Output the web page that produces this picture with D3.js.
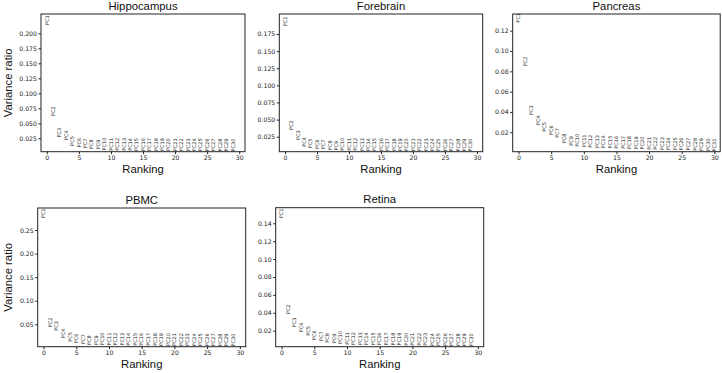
<!DOCTYPE html>
<html>
<head>
<meta charset="utf-8">
<script src="https://cdn.jsdelivr.net/npm/d3@7"></script>
<style>
  body { margin: 0; background: #fff; }
  .axis { color: #222; }
  .tick text { font-family: "DejaVu Sans", sans-serif; font-size: 6.2px; fill: #222; }
  .pc-label { font-family: "DejaVu Sans", sans-serif; font-size: 5px; fill: #222; }
  .title, .axis-title { font-family: "Liberation Sans", Arial, sans-serif; font-size: 11.3px; fill: #111; }
</style>
</head>
<body>
<div id="chart"></div>
<script>
//Variance ratio of each principal component.
let hippocampus = [0.2138, 0.0622, 0.0262, 0.0222, 0.0124, 0.0096, 0.0084, 0.0073, 0.0067, 0.0047,
  0.0044, 0.0043, 0.0042, 0.0041, 0.0040, 0.0039, 0.0039, 0.0038, 0.0038, 0.0037,
  0.0036, 0.0036, 0.0035, 0.0035, 0.0034, 0.0034, 0.0033, 0.0032, 0.0032, 0.0031]
let forebrain = [0.1862, 0.0348, 0.0202, 0.0104, 0.0080, 0.0070, 0.0066, 0.0056, 0.0048, 0.0045,
  0.0044, 0.0044, 0.0043, 0.0042, 0.0042, 0.0041, 0.0040, 0.0040, 0.0039, 0.0039,
  0.0038, 0.0038, 0.0037, 0.0037, 0.0036, 0.0036, 0.0035, 0.0035, 0.0034, 0.0034]
let pancreas = [0.1279, 0.0850, 0.0370, 0.0272, 0.0206, 0.0173, 0.0147, 0.0092, 0.0068, 0.0058,
  0.0052, 0.0048, 0.0046, 0.0043, 0.0041, 0.0039, 0.0037, 0.0035, 0.0033, 0.0031,
  0.0029, 0.0028, 0.0026, 0.0025, 0.0023, 0.0022, 0.0020, 0.0018, 0.0017, 0.0015, 0.0012]
let pbmc = [0.2748, 0.0436, 0.0364, 0.0203, 0.0131, 0.0097, 0.0082, 0.0063, 0.0060, 0.0054,
  0.0052, 0.0050, 0.0049, 0.0047, 0.0046, 0.0045, 0.0044, 0.0043, 0.0042, 0.0041,
  0.0040, 0.0039, 0.0038, 0.0037, 0.0036, 0.0035, 0.0034, 0.0033, 0.0032, 0.0031]
let retina = [0.1456, 0.0385, 0.0238, 0.0182, 0.0144, 0.0096, 0.0085, 0.0066, 0.0059, 0.0051,
  0.0042, 0.0040, 0.0039, 0.0038, 0.0037, 0.0036, 0.0035, 0.0034, 0.0034, 0.0033,
  0.0032, 0.0032, 0.0031, 0.0030, 0.0030, 0.0029, 0.0028, 0.0028, 0.0027, 0.0026]

//Tick values for every axis.
let xTicks = [0, 5, 10, 15, 20, 25, 30]
let hippocampusTicks = [0.025, 0.050, 0.075, 0.100, 0.125, 0.150, 0.175, 0.200]
let forebrainTicks = [0.025, 0.050, 0.075, 0.100, 0.125, 0.150, 0.175]
let pancreasTicks = [0.02, 0.04, 0.06, 0.08, 0.10, 0.12]
let pbmcTicks = [0.05, 0.10, 0.15, 0.20, 0.25]
let retinaTicks = [0.02, 0.04, 0.06, 0.08, 0.10, 0.12, 0.14]

//Panel boxes and y limits.
let panels = [
  { title: "Hippocampus", values: hippocampus, ticks: hippocampusTicks, fmt: ".3f", ylim: [0.0027, 0.2322], box: [41, 14, 204, 137.7], ylabel: true },
  { title: "Forebrain", values: forebrain, ticks: forebrainTicks, fmt: ".3f", ylim: [0.0031, 0.2042], box: [279.3, 14, 203.4, 137.7], ylabel: false },
  { title: "Pancreas", values: pancreas, ticks: pancreasTicks, fmt: ".2f", ylim: [0.0009, 0.1364], box: [512.7, 14, 207.5, 137.7], ylabel: false },
  { title: "PBMC", values: pbmc, ticks: pbmcTicks, fmt: ".2f", ylim: [0.0025, 0.2967], box: [37.7, 208, 208, 138.7], ylabel: true },
  { title: "Retina", values: retina, ticks: retinaTicks, fmt: ".2f", ylim: [0.0021, 0.1574], box: [275.7, 207.7, 208, 139], ylabel: false }
]

const svg = d3.select("#chart")
  .append("svg")
  .attr("width", 722)
  .attr("height", 373)

panels.forEach(drawPanel)

function drawPanel(p) {
  let [bx, by, bw, bh] = p.box

  let xScale = d3.scaleLinear().domain([-0.9, 30.9]).range([bx, bx + bw])
  let yScale = d3.scaleLinear().domain(p.ylim).range([by + bh, by])

  //Axes with short outward ticks.
  svg.append("g")
    .attr("class", "axis")
    .attr("transform", "translate(0," + (by + bh) + ")")
    .call(d3.axisBottom(xScale).tickValues(xTicks).tickSize(2.5).tickPadding(1.5).tickFormat(d3.format("d")))
    .call(g => g.select(".domain").remove())

  svg.append("g")
    .attr("class", "axis")
    .attr("transform", "translate(" + bx + ",0)")
    .call(d3.axisLeft(yScale).tickValues(p.ticks).tickSize(2.5).tickPadding(1.5).tickFormat(d3.format(p.fmt)))
    .call(g => g.select(".domain").remove())

  //Frame.
  svg.append("rect")
    .attr("x", bx)
    .attr("y", by)
    .attr("width", bw)
    .attr("height", bh)
    .attr("fill", "none")
    .attr("stroke", "#222")
    .attr("stroke-width", 1)

  //PC labels, written vertically from their value upwards.
  svg.append("g")
    .selectAll("text")
    .data(p.values)
    .enter()
    .append("text")
    .attr("class", "pc-label")
    .attr("transform", (d, i) => "translate(" + xScale(i) + "," + yScale(d) + ") rotate(-90)")
    .attr("dy", "0.35em")
    .text((d, i) => "PC" + (i + 1))

  svg.append("text")
    .attr("class", "title")
    .attr("x", bx + bw / 2)
    .attr("y", by - 4.5)
    .style("text-anchor", "middle")
    .text(p.title)

  svg.append("text")
    .attr("class", "axis-title")
    .attr("x", bx + bw / 2)
    .attr("y", by + bh + 21)
    .style("text-anchor", "middle")
    .text("Ranking")

  if (p.ylabel) {
    svg.append("text")
      .attr("class", "axis-title")
      .attr("transform", "translate(11.5," + (by + bh / 2) + ") rotate(-90)")
      .style("text-anchor", "middle")
      .text("Variance ratio")
  }
}
</script>
</body>
</html>
